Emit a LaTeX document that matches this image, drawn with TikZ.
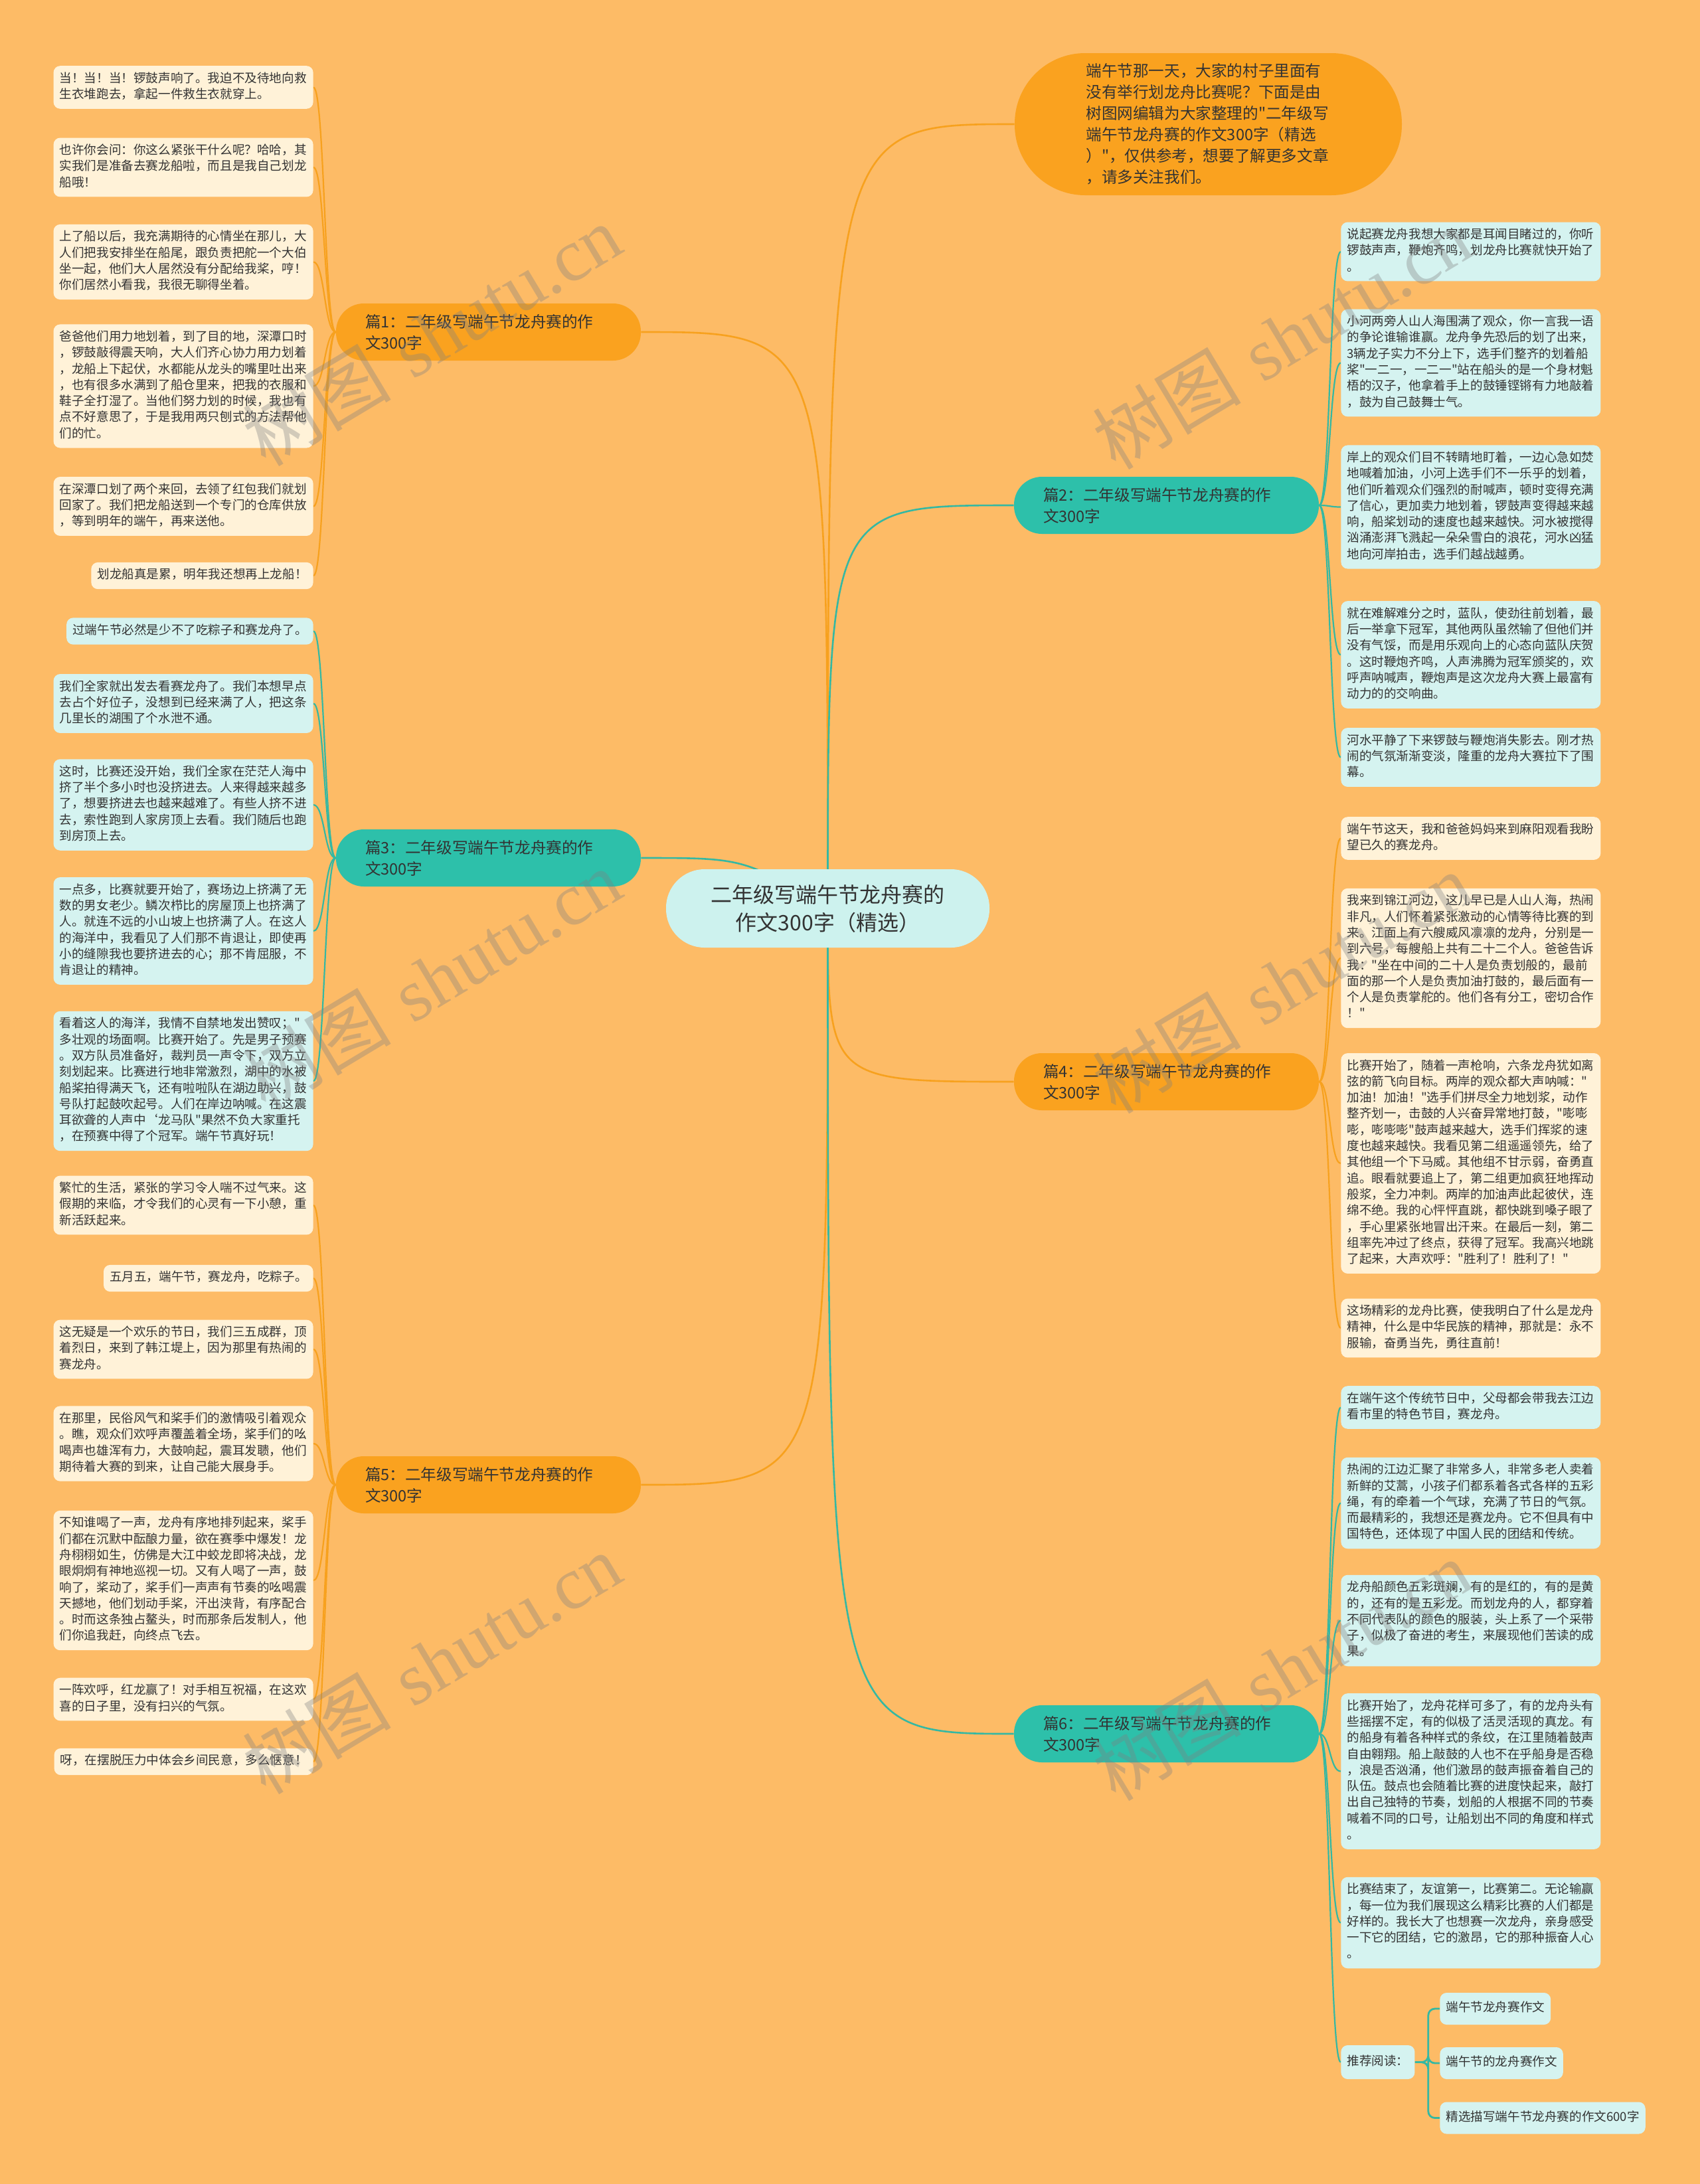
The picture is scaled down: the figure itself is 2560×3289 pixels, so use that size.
\documentclass[tikz,border=0pt]{standalone}
\usepackage{fontspec}
\newfontfamily\cjk{Noto Sans CJK SC}
\newfontfamily\wmserif{Liberation Serif}
\definecolor{bgc}{HTML}{FDBB66}
\definecolor{orangeBr}{HTML}{FAA21F}
\definecolor{tealBr}{HTML}{2DC0AA}
\definecolor{lineO}{HTML}{F7A11E}
\definecolor{lineT}{HTML}{35B8A2}
\definecolor{creamfill}{HTML}{FFF2D8}
\definecolor{cyanfill}{HTML}{D5F3F0}
\definecolor{centerfill}{HTML}{CDF2EE}
\definecolor{txt}{HTML}{333333}
\pgfdeclarelayer{bgfill}
\pgfdeclarelayer{lines}
\pgfsetlayers{bgfill,lines,main}
\begin{document}
\begin{tikzpicture}[x=0.5pt,y=-0.5pt,
  leaf/.style={rounded corners=5pt, inner xsep=4.5pt, inner ysep=4pt, align=left, text=txt,
    font=\cjk\fontsize{9.3}{12.15}\selectfont,
    execute at begin node={\strut}, execute at end node={\strut}},
  wide/.style={text width=186.5pt},
  leafO/.style={leaf, fill=creamfill},
  leafT/.style={leaf, fill=cyanfill},
  lleft/.style={anchor=east},
  lright/.style={anchor=west},
  branch/.style={rounded corners=21pt, minimum height=43pt, text width=185.5pt, inner xsep=22pt,
    align=left, text=txt, font=\cjk\fontsize{11.8}{16}\selectfont},
  branchO/.style={branch, fill=orangeBr},
  branchT/.style={branch, fill=tealBr},
  conO/.style={draw=lineO, line width=1.1pt},
  conT/.style={draw=lineT, line width=1.1pt},
  mainO/.style={draw=lineO, line width=1.3pt},
  mainT/.style={draw=lineT, line width=1.3pt},
  small/.style={leaf, fill=cyanfill, minimum height=24pt, anchor=west},
  wm/.style={rotate=31, text=gray, opacity=0.35, font=\fontsize{56}{60}\selectfont}
]
\useasboundingbox (0,0) rectangle (2560,3289);
\begin{pgfonlayer}{bgfill}
\fill[bgc] (0,0) rectangle (2560,3289);
\end{pgfonlayer}

% center and intro
\node[fill=centerfill, rounded corners=29pt, minimum width=243.5pt, minimum height=59pt, align=center,
  text=txt, font=\cjk\fontsize{16}{21}\selectfont] (c) at (1246.5,1368)
  {二年级写端午节龙舟赛的\\作文300字（精选）};
\node[fill=orangeBr, rounded corners=53pt, minimum width=291.5pt, minimum height=107pt, text width=184pt,
  inner xsep=53.75pt, align=left, text=txt, font=\cjk\fontsize{11.8}{16}\selectfont] (intro) at (1819.5,187)
  {端午节那一天，大家的村子里面有\\没有举行划龙舟比赛呢？下面是由\\树图网编辑为大家整理的"二年级写\\端午节龙舟赛的作文300字（精选\\）"，仅供参考，想要了解更多文章\\，请多关注我们。};

% branches
\node[branchO] (b1) at (735.5,500) {篇1：二年级写端午节龙舟赛的作\\文300字};
\node[branchT] (b3) at (735.5,1292) {篇3：二年级写端午节龙舟赛的作\\文300字};
\node[branchO] (b5) at (735.5,2236) {篇5：二年级写端午节龙舟赛的作\\文300字};
\node[branchT] (b2) at (1756.5,761) {篇2：二年级写端午节龙舟赛的作\\文300字};
\node[branchO] (b4) at (1756.5,1629) {篇4：二年级写端午节龙舟赛的作\\文300字};
\node[branchT] (b6) at (1756.5,2611) {篇6：二年级写端午节龙舟赛的作\\文300字};

% 篇1 leaves
\node[leafO,wide,lleft] (l1a) at (472,131.5) {当！当！当！锣鼓声响了。我迫不及待地向救\\生衣堆跑去，拿起一件救生衣就穿上。};
\node[leafO,wide,lleft] (l1b) at (472,252) {也许你会问：你这么紧张干什么呢？哈哈，其\\实我们是准备去赛龙船啦，而且是我自己划龙\\船哦！};
\node[leafO,wide,lleft] (l1c) at (472,394.5) {上了船以后，我充满期待的心情坐在那儿，大\\人们把我安排坐在船尾，跟负责把舵一个大伯\\坐一起，他们大人居然没有分配给我桨，哼！\\你们居然小看我，我很无聊得坐着。};
\node[leafO,wide,lleft] (l1d) at (472,581.5) {爸爸他们用力地划着，到了目的地，深潭口时\\，锣鼓敲得震天响，大人们齐心协力用力划着\\，龙船上下起伏，水都能从龙头的嘴里吐出来\\，也有很多水满到了船仓里来，把我的衣服和\\鞋子全打湿了。当他们努力划的时候，我也有\\点不好意思了，于是我用两只刨式的方法帮他\\们的忙。};
\node[leafO,wide,lleft] (l1e) at (472,762.5) {在深潭口划了两个来回，去领了红包我们就划\\回家了。我们把龙船送到一个专门的仓库供放\\，等到明年的端午，再来送他。};
\node[leafO,lleft] (l1f) at (472,867) {划龙船真是累，明年我还想再上龙船！};

% 篇3 leaves
\node[leafT,lleft] (l3a) at (472,950.5) {过端午节必然是少不了吃粽子和赛龙舟了。};
\node[leafT,wide,lleft] (l3b) at (472,1059.5) {我们全家就出发去看赛龙舟了。我们本想早点\\去占个好位子，没想到已经来满了人，把这条\\几里长的湖围了个水泄不通。};
\node[leafT,wide,lleft] (l3c) at (472,1212) {这时，比赛还没开始，我们全家在茫茫人海中\\挤了半个多小时也没挤进去。人来得越来越多\\了，想要挤进去也越来越难了。有些人挤不进\\去，索性跑到人家房顶上去看。我们随后也跑\\到房顶上去。};
\node[leafT,wide,lleft] (l3d) at (472,1402) {一点多，比赛就要开始了，赛场边上挤满了无\\数的男女老少。鳞次栉比的房屋顶上也挤满了\\人。就连不远的小山坡上也挤满了人。在这人\\的海洋中，我看见了人们那不肯退让，即使再\\小的缝隙我也要挤进去的心；那不肯屈服，不\\肯退让的精神。};
\node[leafT,wide,lleft] (l3e) at (472,1628) {看着这人的海洋，我情不自禁地发出赞叹；"\\多壮观的场面啊。比赛开始了。先是男子预赛\\。双方队员准备好，裁判员一声令下，双方立\\刻划起来。比赛进行地非常激烈，湖中的水被\\船桨拍得满天飞，还有啦啦队在湖边助兴，鼓\\号队打起鼓吹起号。人们在岸边呐喊。在这震\\耳欲聋的人声中‘龙马队"果然不负大家重托\\，在预赛中得了个冠军。端午节真好玩！};

% 篇5 leaves
\node[leafO,wide,lleft] (l5a) at (472,1815) {繁忙的生活，紧张的学习令人喘不过气来。这\\假期的来临，才令我们的心灵有一下小憩，重\\新活跃起来。};
\node[leafO,lleft] (l5b) at (472,1925) {五月五，端午节，赛龙舟，吃粽子。};
\node[leafO,wide,lleft] (l5c) at (472,2032) {这无疑是一个欢乐的节日，我们三五成群，顶\\着烈日，来到了韩江堤上，因为那里有热闹的\\赛龙舟。};
\node[leafO,wide,lleft] (l5d) at (472,2174) {在那里，民俗风气和桨手们的激情吸引着观众\\。瞧，观众们欢呼声覆盖着全场，桨手们的吆\\喝声也雄浑有力，大鼓响起，震耳发聩，他们\\期待着大赛的到来，让自己能大展身手。};
\node[leafO,wide,lleft] (l5e) at (472,2380) {不知谁喝了一声，龙舟有序地排列起来，桨手\\们都在沉默中酝酿力量，欲在赛季中爆发！龙\\舟栩栩如生，仿佛是大江中蛟龙即将决战，龙\\眼炯炯有神地巡视一切。又有人喝了一声，鼓\\响了，桨动了，桨手们一声声有节奏的吆喝震\\天撼地，他们划动手桨，汗出浃背，有序配合\\。时而这条独占鳌头，时而那条后发制人，他\\们你追我赶，向终点飞去。};
\node[leafO,wide,lleft] (l5f) at (472,2559) {一阵欢呼，红龙赢了！对手相互祝福，在这欢\\喜的日子里，没有扫兴的气氛。};
\node[leafO,lleft] (l5g) at (472,2653) {呀，在摆脱压力中体会乡间民意，多么惬意！};

% 篇2 leaves
\node[leafT,wide,lright] (r2a) at (2019,379) {说起赛龙舟我想大家都是耳闻目睹过的，你听\\锣鼓声声，鞭炮齐鸣，划龙舟比赛就快开始了\\。};
\node[leafT,wide,lright] (r2b) at (2019,546.5) {小河两旁人山人海围满了观众，你一言我一语\\的争论谁输谁赢。龙舟争先恐后的划了出来，\\3辆龙子实力不分上下，选手们整齐的划着船\\桨"一二一，一二一"站在船头的是一个身材魁\\梧的汉子，他拿着手上的鼓锤铿锵有力地敲着\\，鼓为自己鼓舞士气。};
\node[leafT,wide,lright] (r2c) at (2019,763.5) {岸上的观众们目不转睛地盯着，一边心急如焚\\地喊着加油，小河上选手们不一乐乎的划着，\\他们听着观众们强烈的耐喊声，顿时变得充满\\了信心，更加卖力地划着，锣鼓声变得越来越\\响，船桨划动的速度也越来越快。河水被搅得\\汹涌澎湃飞溅起一朵朵雪白的浪花，河水凶猛\\地向河岸拍击，选手们越战越勇。};
\node[leafT,wide,lright] (r2d) at (2019,986) {就在难解难分之时，蓝队，使劲往前划着，最\\后一举拿下冠军，其他两队虽然输了但他们并\\没有气馁，而是用乐观向上的心态向蓝队庆贺\\。这时鞭炮齐鸣，人声沸腾为冠军颁奖的，欢\\呼声呐喊声，鞭炮声是这次龙舟大赛上最富有\\动力的的交响曲。};
\node[leafT,wide,lright] (r2e) at (2019,1140.5) {河水平静了下来锣鼓与鞭炮消失影去。刚才热\\闹的气氛渐渐变淡，隆重的龙舟大赛拉下了围\\幕。};

% 篇4 leaves
\node[leafO,wide,lright] (r4a) at (2019,1262.5) {端午节这天，我和爸爸妈妈来到麻阳观看我盼\\望已久的赛龙舟。};
\node[leafO,wide,lright] (r4b) at (2019,1443) {我来到锦江河边，这儿早已是人山人海，热闹\\非凡，人们怀着紧张激动的心情等待比赛的到\\来。江面上有六艘威风凛凛的龙舟，分别是一\\到六号，每艘船上共有二十二个人。爸爸告诉\\我："坐在中间的二十人是负责划般的，最前\\面的那一个人是负责加油打鼓的，最后面有一\\个人是负责掌舵的。他们各有分工，密切合作\\！"};
\node[leafO,wide,lright] (r4c) at (2019,1752) {比赛开始了，随着一声枪响，六条龙舟犹如离\\弦的箭飞向目标。两岸的观众都大声呐喊："\\加油！加油！"选手们拼尽全力地划浆，动作\\整齐划一，击鼓的人兴奋异常地打鼓，"嘭嘭\\嘭，嘭嘭嘭"鼓声越来越大，选手们挥浆的速\\度也越来越快。我看见第二组遥遥领先，给了\\其他组一个下马威。其他组不甘示弱，奋勇直\\追。眼看就要追上了，第二组更加疯狂地挥动\\般浆，全力冲刺。两岸的加油声此起彼伏，连\\绵不绝。我的心怦怦直跳，都快跳到嗓子眼了\\，手心里紧张地冒出汗来。在最后一刻，第二\\组率先冲过了终点，获得了冠军。我高兴地跳\\了起来，大声欢呼："胜利了！胜利了！"};
\node[leafO,wide,lright] (r4d) at (2019,2000) {这场精彩的龙舟比赛，使我明白了什么是龙舟\\精神，什么是中华民族的精神，那就是：永不\\服输，奋勇当先，勇往直前！};

% 篇6 leaves
\node[leafT,wide,lright] (r6a) at (2019,2119.5) {在端午这个传统节日中，父母都会带我去江边\\看市里的特色节目，赛龙舟。};
\node[leafT,wide,lright] (r6b) at (2019,2263.5) {热闹的江边汇聚了非常多人，非常多老人卖着\\新鲜的艾蒿，小孩子们都系着各式各样的五彩\\绳，有的牵着一个气球，充满了节日的气氛。\\而最精彩的，我想还是赛龙舟。它不但具有中\\国特色，还体现了中国人民的团结和传统。};
\node[leafT,wide,lright] (r6c) at (2019,2440.5) {龙舟船颜色五彩斑斓，有的是红的，有的是黄\\的，还有的是五彩龙。而划龙舟的人，都穿着\\不同代表队的颜色的服装，头上系了一个采带\\子，似极了奋进的考生，来展现他们苦读的成\\果。};
\node[leafT,wide,lright] (r6d) at (2019,2667.5) {比赛开始了，龙舟花样可多了，有的龙舟头有\\些摇摆不定，有的似极了活灵活现的真龙。有\\的船身有着各种样式的条纹，在江里随着鼓声\\自由翱翔。船上敲鼓的人也不在乎船身是否稳\\，浪是否汹涌，他们激昂的鼓声振奋着自己的\\队伍。鼓点也会随着比赛的进度快起来，敲打\\出自己独特的节奏，划船的人根据不同的节奏\\喊着不同的口号，让船划出不同的角度和样式\\。};
\node[leafT,wide,lright] (r6e) at (2019,2895.5) {比赛结束了，友谊第一，比赛第二。无论输赢\\，每一位为我们展现这么精彩比赛的人们都是\\好样的。我长大了也想赛一次龙舟，亲身感受\\一下它的团结，它的激昂，它的那种振奋人心\\。};
\node[small, minimum height=25.5pt] (rec) at (2019,3105.5) {推荐阅读：};
\node[small] (s1) at (2168,3025) {端午节龙舟赛作文};
\node[small] (s2) at (2168,3107) {端午节的龙舟赛作文};
\node[small] (s3) at (2168,3189.5) {精选描写端午节龙舟赛的作文600字};

% connectors
\begin{pgfonlayer}{lines}
\draw[mainO] (c.center) .. controls (1246.5,187) .. (intro.west);
\draw[mainO] (c.center) .. controls (1246.5,500) .. (b1.east);
\draw[mainT] (c.center) .. controls (1120,1292) .. (b3.east);
\draw[mainO] (c.center) .. controls (1246.5,2236) .. (b5.east);
\draw[mainT] (c.center) .. controls (1246.5,761) .. (b2.west);
\draw[mainO] (c.center) .. controls (1246.5,1629) .. (b4.west);
\draw[mainT] (c.center) .. controls (1246.5,2611) .. (b6.west);
\foreach \n in {l1a,l1b,l1c,l1d,l1e,l1f}
  \draw[conO] (b1.west) .. controls +(-17,0) and +(17,0) .. (\n.east);
\foreach \n in {l3a,l3b,l3c,l3d,l3e}
  \draw[conT] (b3.west) .. controls +(-17,0) and +(17,0) .. (\n.east);
\foreach \n in {l5a,l5b,l5c,l5d,l5e,l5f,l5g}
  \draw[conO] (b5.west) .. controls +(-17,0) and +(17,0) .. (\n.east);
\foreach \n in {r2a,r2b,r2c,r2d,r2e}
  \draw[conT] (b2.east) .. controls +(17,0) and +(-17,0) .. (\n.west);
\foreach \n in {r4a,r4b,r4c,r4d}
  \draw[conO] (b4.east) .. controls +(17,0) and +(-17,0) .. (\n.west);
\foreach \n in {r6a,r6b,r6c,r6d,r6e,rec}
  \draw[conT] (b6.east) .. controls +(17,0) and +(-17,0) .. (\n.west);
\foreach \n in {s1,s2,s3}
  \draw[conT, line width=1.4pt, rounded corners=5pt] (rec.east) -- ++(20,0) |- (\n.west);
\end{pgfonlayer}

% watermarks
\node[wm] (w1) at (650,505) {{\cjk 树图} {\wmserif shutu.cn}};
\node[wm] (w2) at (1930,510) {{\cjk 树图} {\wmserif shutu.cn}};
\node[wm] (w3) at (650,1475) {{\cjk 树图} {\wmserif shutu.cn}};
\node[wm] (w4) at (1930,1480) {{\cjk 树图} {\wmserif shutu.cn}};
\node[wm] (w5) at (650,2505) {{\cjk 树图} {\wmserif shutu.cn}};
\node[wm] (w6) at (1930,2515) {{\cjk 树图} {\wmserif shutu.cn}};
\end{tikzpicture}
\end{document}
